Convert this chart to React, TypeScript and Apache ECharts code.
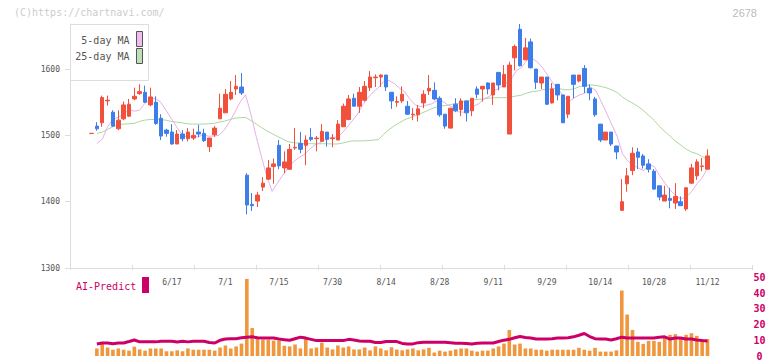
import React, { useEffect, useRef } from 'react';
import * as echarts from 'echarts';

const dates = ['5/27','5/28','5/29','5/30','6/2','6/3','6/4','6/5','6/6','6/9','6/10','6/11','6/12','6/13','6/16','6/17','6/18','6/19','6/20','6/23','6/24','6/25','6/26','6/27','6/30','7/1','7/2','7/3','7/4','7/7','7/8','7/9','7/10','7/11','7/14','7/15','7/16','7/17','7/18','7/22','7/23','7/24','7/25','7/28','7/29','7/30','7/31','8/1','8/4','8/5','8/6','8/7','8/8','8/12','8/13','8/14','8/15','8/18','8/19','8/20','8/21','8/22','8/25','8/26','8/27','8/28','8/29','9/1','9/2','9/3','9/4','9/5','9/8','9/9','9/10','9/11','9/12','9/16','9/17','9/18','9/19','9/22','9/24','9/25','9/26','9/29','9/30','10/1','10/2','10/3','10/6','10/7','10/8','10/9','10/10','10/14','10/15','10/16','10/17','10/20','10/21','10/22','10/23','10/24','10/27','10/28','10/29','10/30','10/31','11/4','11/5','11/6','11/7','11/10','11/11','11/12'];

const opens = [1503,1514,1519,1552,1535,1510,1525,1529,1555,1563, 1565,1546,1550,1526,1508,1505,1487,1502,1495,1496, 1505,1503,1483,1501,1525,1534,1555,1570,1573,1440, 1396,1401,1422,1434,1453,1485,1451,1449,1481,1488, 1485,1497,1495,1491,1505,1495,1493,1513,1524,1556, 1544,1553,1572,1587,1588,1591,1565,1550,1552,1544, 1531,1531,1549,1567,1568,1556,1532,1511,1547,1539, 1552,1537,1570,1570,1579,1561,1595,1573,1502,1617, 1660,1614,1641,1600,1579,1588,1549,1577,1561,1532, 1591,1582,1601,1571,1555,1517,1493,1505,1484,1387, 1427,1447,1475,1469,1457,1446,1424,1401,1405,1398, 1400,1389,1428,1439,1453,1449];

const closes = [1503,1510,1557,1553,1514,1523,1546,1547,1559,1566, 1550,1558,1518,1499,1503,1487,1502,1495,1505,1500, 1502,1492,1496,1511,1541,1562,1565,1574,1564,1395, 1394,1410,1428,1451,1457,1454,1460,1479,1482,1479, 1493,1494,1496,1506,1494,1496,1517,1544,1555,1544, 1565,1574,1588,1588,1591,1573,1552,1551,1562,1532, 1532,1540,1562,1571,1555,1531,1514,1541,1537,1552, 1534,1556,1562,1574,1570,1579,1576,1592,1606,1634, 1605,1632,1602,1580,1588,1547,1570,1561,1519,1559, 1577,1591,1574,1564,1531,1493,1505,1487,1475,1400, 1439,1473,1467,1455,1449,1419,1407,1410,1402,1408, 1394,1421,1451,1460,1454,1469];

const lows = [1503,1507,1513,1545,1513,1508,1523,1528,1553,1561, 1549,1544,1516,1493,1498,1486,1487,1491,1491,1493, 1497,1490,1475,1498,1525,1534,1553,1561,1561,1381, 1386,1392,1416,1433,1427,1449,1443,1448,1478,1473, 1455,1491,1476,1491,1483,1482,1493,1513,1523,1544, 1534,1551,1567,1573,1573,1567,1540,1543,1549,1531, 1523,1521,1541,1561,1553,1528,1510,1511,1535,1529, 1521,1529,1556,1551,1562,1546,1568,1573,1502,1598, 1604,1614,1601,1570,1570,1546,1548,1553,1519,1526, 1556,1580,1564,1553,1528,1490,1493,1484,1464,1386, 1415,1440,1449,1450,1444,1418,1402,1401,1390,1389, 1394,1386,1427,1433,1446,1449];

const highs = [1503,1520,1560,1560,1538,1538,1551,1555,1572,1577, 1575,1572,1559,1532,1510,1517,1508,1508,1511,1510, 1516,1510,1496,1514,1563,1570,1582,1591,1594,1443, 1413,1415,1437,1463,1465,1493,1476,1487,1511,1505, 1500,1511,1499,1517,1505,1502,1523,1548,1561,1563, 1573,1582,1597,1592,1592,1591,1565,1559,1574,1552, 1541,1546,1568,1591,1580,1559,1532,1541,1556,1556, 1552,1556,1574,1574,1580,1579,1595,1606,1611,1637, 1668,1647,1646,1600,1588,1588,1579,1577,1561,1559, 1591,1591,1606,1577,1558,1517,1505,1505,1484,1434, 1451,1482,1481,1472,1464,1449,1424,1424,1421,1428, 1408,1421,1457,1464,1466,1479];

// Moving averages, one value per trading day (drawn on their own x-scale, as in the source chart)
const ma5 = [1488,1494,1513,1524,1527.4,1531.4,1538.6,1536.6,1537.8,1548.2, 1553.6,1556,1550.2,1538.2,1525.6,1513,1501.8,1497.2,1498.4,1497.8, 1500.8,1498.8,1499,1500.2,1508.4,1520.4,1535,1550.6,1561.2,1532, 1498.4,1467.4,1438.2,1415.6,1428,1440,1450,1460.2,1466.4,1470.8, 1478.6,1485.4,1488.8,1493.6,1496.6,1497.2,1501.8,1511.4,1521.2,1531.2, 1545,1556.4,1565.2,1571.8,1581.2,1582.8,1578.4,1571,1565.8,1554, 1545.8,1543.4,1545.6,1547.4,1552,1551.8,1546.6,1542.4,1535.6,1535, 1535.6,1544,1548.2,1555.6,1559.2,1568.2,1572.2,1578.2,1584.6,1597.4, 1602.6,1613.8,1615.8,1610.6,1601.4,1589.8,1577.4,1569.2,1557,1551.2, 1557.2,1561.4,1564,1573,1567.4,1550.6,1533.4,1516,1498.2,1472, 1461.2,1454.8,1450.8,1446.8,1456.6,1452.6,1439.4,1428,1417.4,1409.2, 1404.2,1407,1415.2,1426.8,1436,1451];

const ma25 = [1503,1505,1509,1513,1516,1517,1517.5,1518,1521,1523, 1524,1524,1523.5,1523,1521,1520,1519,1517.5,1517,1517, 1517,1517.5,1518,1520,1521.5,1523.8,1526.0,1526.7,1527.2,1522.4, 1517.2,1511.8,1507.0,1502.7,1498.4,1494.5,1490.6,1489.0,1488.4,1487.4, 1487.6,1487.3,1487.4,1487.4,1487.2,1486.9,1487.9,1489.8,1491.6,1491.7, 1491.8,1492.2,1492.8,1493.7,1501.6,1508.7,1514.4,1519.3,1523.8,1526.8, 1529.9,1533.1,1536.4,1540.0,1543.0,1544.5,1545.3,1547.1,1548.4,1550.7, 1552.2,1553.8,1554.5,1555.2,1556.3,1556.8,1556.9,1557.1,1557.8,1559.5, 1560.8,1564.0,1566.0,1566.8,1569.0,1569.6,1570.8,1570.8,1568.7,1568.8, 1570.7,1573.8,1575.1,1576.2,1575.3,1573.7,1571.6,1568.6,1564.7,1557.9, 1552.3,1548.2,1543.2,1537.1,1529.7,1522.3,1513.3,1505.6,1498.5,1491.3, 1485.2,1479.2,1474.8,1472.4,1468.2,1463.9];

const volumes = [null,4.8,7.7,5.4,4.0,4.8,4.0,3.4,5.9,4.2, 3.4,4.8,4.8,4.8,3.0,3.0,3.6,3.0,4.8,4.0, 4.0,4.0,4.0,3.4,5.4,6.7,4.8,6.1,7.9,49.1, 17.8,11.4,10.4,10.4,9.8,9.8,6.5,6.1,7.3,4.8, 11.4,4.8,5.4,8.5,5.4,4.2,6.7,5.4,6.1,4.2, 4.2,5.4,3.6,6.1,4.8,3.6,5.6,4.1,3.6,4.2, 4.8,3.6,4.2,5.2,2.2,3.4,2.8,3.4,4.2,4.8, 4.8,3.4,2.8,3.4,3.4,4.8,6.1,7.9,16.6,7.3, 7.9,4.8,4.8,4.0,4.0,3.4,4.0,4.0,4.0,4.0, 4.0,5.2,4.0,3.4,5.2,2.8,2.8,2.8,3.6,41.7, 26.4,16.6,9.0,7.7,9.6,9.6,9.0,11.4,13.5,13.9, 11.4,13.5,14.5,12.8,10.3,10.7];

const aiPredict = [null,7.7,8.3,8.3,7.8,8.3,8.3,9.2,10.2,9.0, 9.0,9.0,9.0,9.4,9.4,9.4,8.9,9.4,9.0,9.4, 9.4,9.4,8.6,8.3,10.0,10.8,11.0,11.0,11.6,12.0, 12.2,11.6,11.4,11.4,11.4,10.8,10.4,10.0,11.0,12.0, 11.4,10.6,9.8,9.8,9.8,9.8,9.8,9.8,10.6,10.2, 9.6,9.4,9.4,8.6,8.6,9.2,9.2,9.2,8.0,7.7, 7.7,8.5,8.7,8.7,8.7,8.7,8.7,8.4,8.1,8.1, 8.0,7.7,8.1,8.3,8.3,8.3,9.2,10.1,10.6,11.6, 12.4,11.8,11.4,10.8,10.8,10.8,11.0,11.4,11.4,11.6, 12.2,13.2,14.3,12.4,11.0,10.8,10.8,10.2,11.0,12.0, 11.4,11.4,11.4,11.4,11.4,11.4,12.0,12.2,10.8,11.4, 11.4,10.8,10.8,10.2,9.8,9.6];

const priceTicks = [1300, 1400, 1500, 1600];

const MONO = '"DejaVu Sans Mono", monospace';
const RED = '#f0503c';
const BLUE = '#3d7eeb';
const PINK = '#e6b0e8';
const GREEN = '#acd8a0';
const CRIMSON = '#cc0066';
const ORANGE = '#f0963c';
const GRID_LINE = '#dddddd';

export default function App() {
  const ref = useRef<HTMLDivElement>(null);

  useEffect(() => {
    if (!ref.current) return;
    const chart = echarts.init(ref.current, null, { renderer: 'svg' });
    const candles = dates.map((_, i) => [opens[i], closes[i], lows[i], highs[i]]);

    const option: any = {
      animation: false,
      backgroundColor: '#ffffff',
      grid: [
        { left: 91.5, right: 64.5, top: 24, bottom: 93 },
        { left: 70, right: 20, top: 24, bottom: 93 },
        { left: 70, right: 20, top: 24, bottom: 91 },
        { left: 91.5, right: 64.5, top: 277.5, bottom: 2.5 },
        { left: 96.9, right: 64.5, top: 24, bottom: 93 },
      ],
      xAxis: [
        {
          type: 'category', gridIndex: 0, data: dates, boundaryGap: false,
          axisLine: { show: false }, axisTick: { show: false }, splitLine: { show: false },
          axisLabel: {
            interval: (i: number) => i >= 15 && (i - 15) % 10 === 0,
            margin: 10, fontSize: 8, fontFamily: MONO, color: '#555555',
          },
        },
        {
          type: 'value', gridIndex: 1, min: 0, max: 11, interval: 1,
          axisLine: { show: true, lineStyle: { color: GRID_LINE } },
          axisTick: { show: false }, axisLabel: { show: false }, splitLine: { show: false },
        },
        {
          type: 'value', gridIndex: 2, min: 0, max: 11, interval: 1,
          axisLine: { show: false },
          axisTick: { show: true, inside: true, length: 5, lineStyle: { color: GRID_LINE } },
          axisLabel: { show: false }, splitLine: { show: false },
        },
        { type: 'category', gridIndex: 3, data: dates, boundaryGap: false, show: false },
        { type: 'category', gridIndex: 4, data: dates, boundaryGap: false, show: false },
      ],
      yAxis: [
        { type: 'value', gridIndex: 0, min: 1300, max: 1668, show: false },
        {
          type: 'value', gridIndex: 1, min: 1300, max: 1668,
          axisLine: { show: true, lineStyle: { color: GRID_LINE } },
          axisTick: { show: true, length: 5, lineStyle: { color: GRID_LINE }, customValues: priceTicks },
          axisLabel: {
            customValues: priceTicks, margin: 10, fontSize: 8, fontFamily: MONO, color: '#555555',
            formatter: (v: number) => String(v),
          },
          splitLine: { show: false },
        },
        { type: 'value', gridIndex: 2, min: 1300, max: 1668, show: false },
        {
          type: 'value', gridIndex: 3, position: 'right', min: 0, max: 50, interval: 10,
          axisLine: { show: false }, axisTick: { show: false }, splitLine: { show: false },
          axisLabel: {
            margin: 52, align: 'center', color: CRIMSON, fontWeight: 'bold',
            fontSize: 10, fontFamily: MONO, formatter: (v: number) => String(v),
          },
        },
        { type: 'value', gridIndex: 4, min: 1300, max: 1668, show: false },
      ],
      series: [
        {
          type: 'line', name: '25-day MA', xAxisIndex: 4, yAxisIndex: 4, data: ma25,
          symbol: 'none', clip: false, lineStyle: { width: 1, color: GREEN }, z: 1,
        },
        {
          type: 'line', name: '5-day MA', xAxisIndex: 4, yAxisIndex: 4, data: ma5,
          symbol: 'none', clip: false, lineStyle: { width: 1, color: PINK }, z: 1,
        },
        {
          type: 'candlestick', name: 'Price', xAxisIndex: 0, yAxisIndex: 0, data: candles,
          barWidth: 4, clip: false, z: 2,
          itemStyle: { color: RED, color0: BLUE, borderColor: RED, borderColor0: BLUE, borderWidth: 1 },
        },
        {
          type: 'bar', name: 'Volume', xAxisIndex: 3, yAxisIndex: 3, data: volumes,
          barWidth: 3.6, clip: false, itemStyle: { color: ORANGE },
        },
        {
          type: 'line', name: 'AI-Predict', xAxisIndex: 3, yAxisIndex: 3, data: aiPredict,
          symbol: 'none', clip: false, lineStyle: { width: 3, color: CRIMSON }, z: 4,
        },
      ],
      graphic: [
        {
          type: 'text', x: 14, y: 12, z: 100,
          style: { text: '(C)https://chartnavi.com/', fill: '#cccccc', font: `10px ${MONO}`, verticalAlign: 'middle' },
        },
        {
          type: 'text', x: 757, y: 12.5, z: 100,
          style: { text: '2678', fill: '#bbbbbb', font: '11px "Liberation Sans", Arial, sans-serif', align: 'right', verticalAlign: 'middle' },
        },
        {
          type: 'rect', z: 100,
          shape: { x: 70.5, y: 24.5, width: 78, height: 56 },
          style: { fill: '#ffffff', stroke: GRID_LINE, lineWidth: 1 },
        },
        {
          type: 'text', x: 129.5, y: 40.5, z: 101,
          style: { text: '5-day MA', fill: '#555555', font: `10px ${MONO}`, align: 'right', verticalAlign: 'middle' },
        },
        {
          type: 'text', x: 129.5, y: 56.5, z: 101,
          style: { text: '25-day MA', fill: '#555555', font: `10px ${MONO}`, align: 'right', verticalAlign: 'middle' },
        },
        {
          type: 'rect', z: 101,
          shape: { x: 136.5, y: 31.5, width: 6, height: 15 },
          style: { fill: '#f0bcf0', stroke: '#555555', lineWidth: 1 },
        },
        {
          type: 'rect', z: 101,
          shape: { x: 136.5, y: 48.5, width: 6, height: 15 },
          style: { fill: '#bde0b4', stroke: '#555555', lineWidth: 1 },
        },
        {
          type: 'text', x: 76, y: 286, z: 100,
          style: { text: 'AI-Predict', fill: CRIMSON, font: `10px ${MONO}`, verticalAlign: 'middle' },
        },
        {
          type: 'rect', z: 100,
          shape: { x: 142, y: 277, width: 7, height: 16 },
          style: { fill: CRIMSON },
        },
      ],
    };

    chart.setOption(option);
    return () => chart.dispose();
  }, []);

  return (
    <div
      ref={ref}
      style={{ position: 'absolute', left: 0, top: 0, width: 772, height: 361, background: '#ffffff' }}
    />
  );
}
